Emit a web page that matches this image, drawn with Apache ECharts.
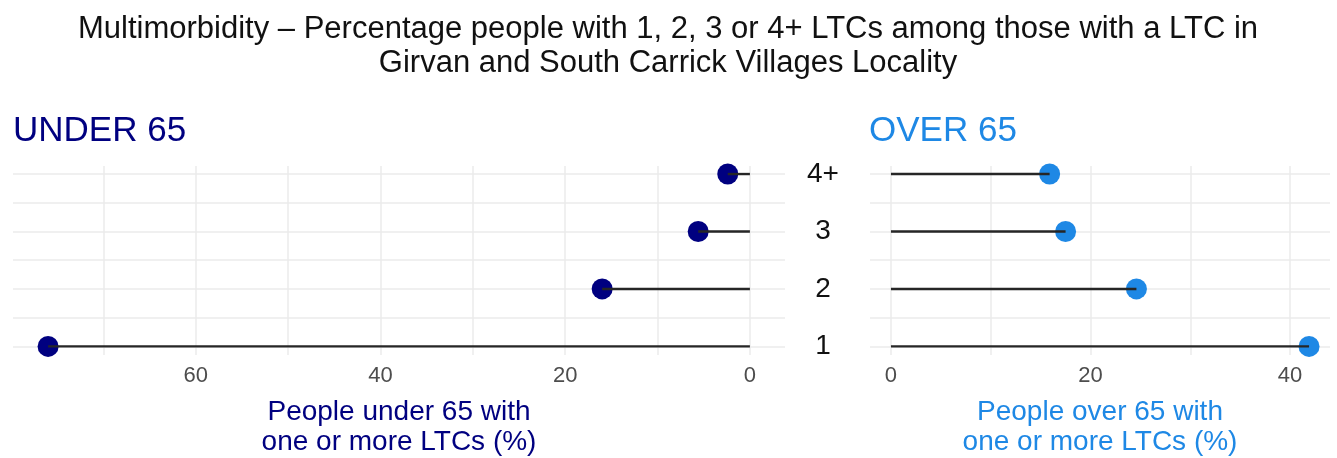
<!DOCTYPE html>
<html>
<head>
<meta charset="utf-8">
<script src="https://cdn.jsdelivr.net/npm/echarts@6/dist/echarts.min.js"></script>
<style>
html, body { margin: 0; padding: 0; background: #fff; }
#chart { width: 1337px; height: 458px; }
</style>
</head>
<body>
<div id="chart"></div>
<script>
var categories = ['1', '2', '3', '4+'];
var under65 = [76.0, 16.0, 5.6, 2.4];
var over65 = [41.9, 24.6, 17.5, 15.9];
var under65Ticks = [0, 20, 40, 60];
var over65Ticks = [0, 20, 40];
var under65Grid = [0, 10, 20, 30, 40, 50, 60, 70];
var over65Grid = [0, 10, 20, 30, 40];
var rowGrid = [1, 1.5, 2, 2.5, 3, 3.5, 4];

var font = "'Liberation Sans', Arial, sans-serif";
var navy = '#000080';
var blue = '#1E88E5';

function points(values) {
    return values.map(function (v, i) { return [v, i + 1]; });
}

// segment from 0 to the value, drawn over the dot
function stick(params, api) {
    var start = api.coord([0, api.value(1)]);
    var end = api.coord([api.value(0), api.value(1)]);
    return {
        type: 'line',
        shape: { x1: start[0], y1: start[1], x2: end[0], y2: end[1] },
        style: { stroke: '#262626', lineWidth: 2.4 }
    };
}

function xAxisFor(idx, min, max, ticks, grid, inverse, name, color) {
    return {
        type: 'value', gridIndex: idx, min: min, max: max, inverse: inverse,
        axisLine: { show: false },
        axisTick: { show: false, customValues: grid },
        axisLabel: { customValues: ticks, color: '#4d4d4d', fontSize: 22, fontFamily: font, margin: 10 },
        splitLine: { show: true, lineStyle: { color: '#ebebeb', width: 1.5 } },
        name: name, nameLocation: 'middle', nameGap: 42,
        nameTextStyle: { color: color, fontSize: 28, fontFamily: font, lineHeight: 30, align: 'center' }
    };
}

function yAxisFor(idx, showLabels) {
    return {
        type: 'value', gridIndex: idx, min: 0.85, max: 4.14,
        axisLine: { show: false },
        axisTick: { show: false, customValues: rowGrid },
        axisLabel: {
            show: showLabels, customValues: [1, 2, 3, 4],
            formatter: function (v) { return categories[Math.round(v) - 1]; },
            color: '#111', fontSize: 28, fontFamily: font, align: 'center', margin: 47
        },
        splitLine: { show: true, lineStyle: { color: '#ebebeb', width: 1.5 } }
    };
}

var chart = echarts.init(document.getElementById('chart'));
chart.setOption({
    backgroundColor: '#fff',
    animation: false,
    graphic: [
        { type: 'text', x: 668, y: 46, style: { text: 'Multimorbidity \u2013 Percentage people with 1, 2, 3 or 4+ LTCs among those with a LTC in\nGirvan and South Carrick Villages Locality', align: 'center', verticalAlign: 'middle', fill: '#111', font: '31px ' + font, lineHeight: 34 } },
        { type: 'text', x: 13, y: 131, style: { text: 'UNDER 65', align: 'left', verticalAlign: 'middle', fill: navy, font: '35px ' + font } },
        { type: 'text', x: 869, y: 131, style: { text: 'OVER 65', align: 'left', verticalAlign: 'middle', fill: blue, font: '35px ' + font } }
    ],
    grid: [
        { left: 13, right: 552, top: 166, bottom: 102, containLabel: false },
        { left: 870, right: 7, top: 166, bottom: 102, containLabel: false }
    ],
    xAxis: [
        xAxisFor(0, -3.8, 79.8, under65Ticks, under65Grid, true, 'People under 65 with\none or more LTCs (%)', navy),
        xAxisFor(1, -2.1, 44.0, over65Ticks, over65Grid, false, 'People over 65 with\none or more LTCs (%)', blue)
    ],
    yAxis: [yAxisFor(0, false), yAxisFor(1, true)],
    series: [
        { type: 'scatter', xAxisIndex: 0, yAxisIndex: 0, data: points(under65), symbolSize: 21, itemStyle: { color: navy, opacity: 1 }, z: 2 },
        { type: 'custom', xAxisIndex: 0, yAxisIndex: 0, data: points(under65), renderItem: stick, z: 3 },
        { type: 'scatter', xAxisIndex: 1, yAxisIndex: 1, data: points(over65), symbolSize: 21, itemStyle: { color: blue, opacity: 1 }, z: 2 },
        { type: 'custom', xAxisIndex: 1, yAxisIndex: 1, data: points(over65), renderItem: stick, z: 3 }
    ]
});
</script>
</body>
</html>
